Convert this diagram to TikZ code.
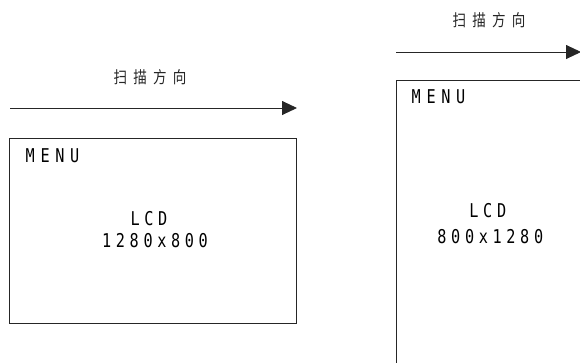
\documentclass[tikz,border=0pt]{standalone}
\usepackage{fontspec}
\newfontfamily\lcdfont[FakeStretch=0.8,LetterSpace=24.5]{DejaVu Sans Mono}
\newfontfamily\menufont[FakeStretch=0.8,LetterSpace=30]{DejaVu Sans Mono}
\newfontfamily\cjk[FakeStretch=0.82]{Noto Sans CJK SC}
\usetikzlibrary{arrows.meta}
\begin{document}
\begin{tikzpicture}[x=1pt,y=-1pt,
  frame/.style={draw=black!85, line width=0.9pt},
  scanarrow/.style={draw=black!85, line width=0.9pt, -{Triangle[length=15pt,width=14pt]}},
  mono/.style={font=\fontsize{19}{24}\lcdfont, inner sep=0pt, text=black},
  menutext/.style={font=\fontsize{19}{24}\menufont, inner sep=0pt, text=black},
  cjklabel/.style={font=\fontsize{16.5}{18}\cjk, inner sep=0pt, text=black!85}]
\useasboundingbox (0,0) rectangle (580,362);
\clip (0,0) rectangle (580,362);
% left panel
\node[cjklabel] (lbl1) at (150,77) {扫\hspace{6.2pt}描\hspace{6.2pt}方\hspace{6.2pt}向};
\coordinate (a1s) at (10,108);
\coordinate (a1e) at (297,108);
\draw[scanarrow] (a1s) -- (a1e);
\node[frame, minimum width=287pt, minimum height=185.5pt, inner sep=0pt] (lcd1) at (153,230.8) {};
\node[menutext, anchor=base west] (menu1) at (25.5,162) {MENU};
\node[mono, anchor=base] (t1a) at (149,225.5) {LCD};
\node[mono, anchor=base] (t1b) at (155,247) {1280x800};
% right panel
\node[cjklabel] (lbl2) at (489,20) {扫\hspace{6.2pt}描\hspace{6.2pt}方\hspace{6.2pt}向};
\coordinate (a2s) at (396,52);
\coordinate (a2e) at (581,52);
\draw[scanarrow] (a2s) -- (a2e);
\coordinate (r2a) at (396.5,80);
\coordinate (r2b) at (580.5,380);
\draw[frame] (r2a) rectangle (r2b);
\node[menutext, anchor=base west] (menu2) at (411.5,103) {MENU};
\node[mono, anchor=base] (t2a) at (487.8,217) {LCD};
\node[mono, anchor=base] (t2b) at (490.3,243) {800x1280};
\end{tikzpicture}
\end{document}
